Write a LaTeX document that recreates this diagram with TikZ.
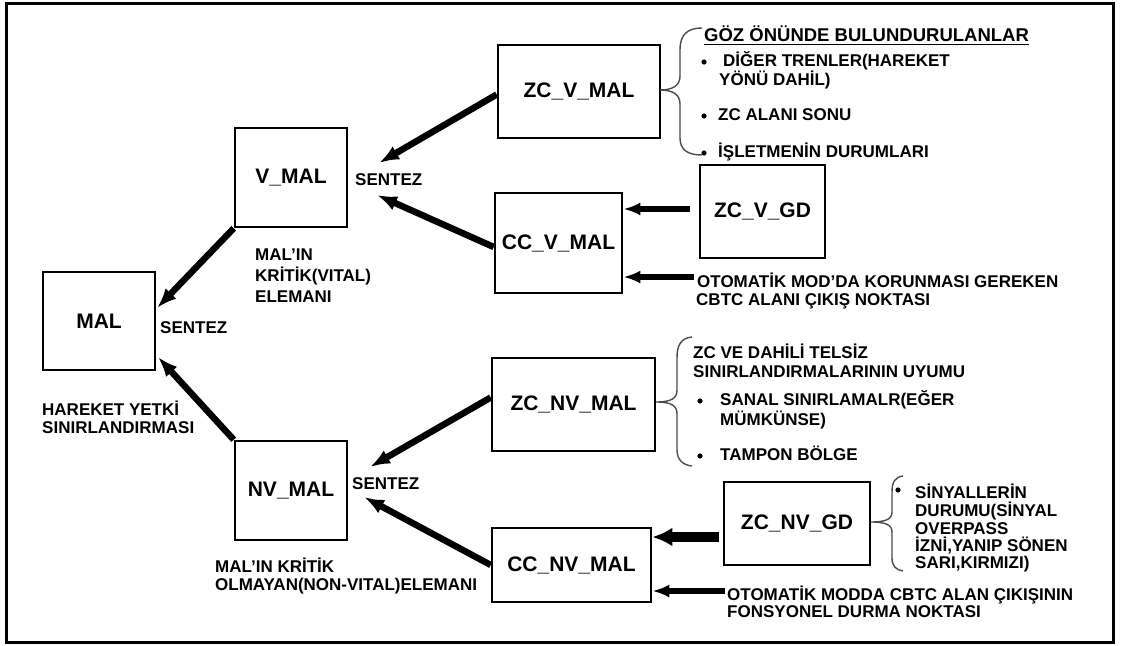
\documentclass[tikz,border=0pt]{standalone}
\usepackage{fontspec}
\setmainfont{Liberation Sans}
\usetikzlibrary{arrows.meta}
\begin{document}
\begin{tikzpicture}[x=1pt,y=-1pt,
  box/.style={draw, line width=2.6pt, inner sep=0pt, font=\fontsize{21}{24}\selectfont\bfseries},
  txt/.style={anchor=base west, inner sep=0pt, font=\fontsize{17}{19}\selectfont\bfseries},
  hdrtxt/.style={anchor=base west, inner sep=0pt, font=\fontsize{18.5}{20}\selectfont\bfseries},
  arr/.style={line width=6.5pt, -{Latex[length=20pt,width=15pt]}},
  harr/.style={line width=6pt, -{Latex[length=17pt,width=13pt]}},
  wharr/.style={line width=10pt, -{Latex[length=20pt,width=19pt]}},
  brc/.style={line width=1.4pt, black!70},
  dotb/.style={fill=black}
]
\useasboundingbox (0,0) rectangle (1126,645);
\draw[line width=3pt] (6,3) rectangle (1113,642);

% boxes
\node[box, minimum width=112pt, minimum height=98pt] (mal) at (99,321) {MAL};
\node[box, minimum width=112pt, minimum height=99pt] (vmal) at (291,177.5) {V\_MAL};
\node[box, minimum width=112pt, minimum height=99pt] (nvmal) at (291,490.5) {NV\_MAL};
\node[box, minimum width=162pt, minimum height=93pt] (zcvmal) at (579,91.5) {ZC\_V\_MAL};
\node[box, minimum width=127pt, minimum height=100pt] (ccvmal) at (558.5,243) {CC\_V\_MAL};
\node[box, minimum width=125pt, minimum height=93pt] (zcvgd) at (762.5,211.5) {ZC\_V\_GD};
\node[box, minimum width=163pt, minimum height=93pt] (zcnvmal) at (573.5,404.5) {ZC\_NV\_MAL};
\node[box, minimum width=159pt, minimum height=74pt] (ccnvmal) at (571.5,565) {CC\_NV\_MAL};
\node[box, minimum width=146pt, minimum height=83pt] (zcnvgd) at (797,523.5) {ZC\_NV\_GD};

% left labels
\node[txt] (sz1) at (160,333) {SENTEZ};
\node[txt] (sz2) at (355,185) {SENTEZ};
\node[txt] (sz3) at (352,489) {SENTEZ};
\node[txt] (hy1) at (42,415) {HAREKET YETKİ};
\node[txt] (hy2) at (42,433) {SINIRLANDIRMASI};
\node[txt] (mk1) at (255,260) {MAL'IN};
\node[txt] (mk2) at (255,281) {KRİTİK(VITAL)};
\node[txt] (mk3) at (255,302) {ELEMANI};
\node[txt] (nk1) at (215,572) {MAL'IN KRİTİK};
\node[txt] (nk2) at (215,590) {OLMAYAN(NON-VITAL)ELEMANI};

% top right list
\node[hdrtxt] (hdr) at (704,41) {GÖZ ÖNÜNDE BULUNDURULANLAR};
\draw[line width=1.6pt] ([yshift=-3.5pt]hdr.base west) -- ([yshift=-3.5pt]hdr.base east);
\node[txt] (g1) at (723,66) {DİĞER TRENLER(HAREKET};
\node[txt] (g2) at (719,85) {YÖNÜ DAHİL)};
\node[txt] (g3) at (718,120) {ZC ALANI SONU};
\node[txt] (g4) at (718,157) {İŞLETMENİN DURUMLARI};
\fill[dotb] (704,62) circle (2.6pt);
\fill[dotb] (704,116) circle (2.6pt);
\fill[dotb] (704,153) circle (2.6pt);

\node[txt] (oto1) at (697,287) {OTOMATİK MOD'DA KORUNMASI GEREKEN};
\node[txt] (oto2) at (696,305) {CBTC ALANI ÇIKIŞ NOKTASI};

% middle right list
\node[txt] (n1) at (693,358) {ZC VE DAHİLİ TELSİZ};
\node[txt] (n2) at (693,377) {SINIRLANDIRMALARININ UYUMU};
\node[txt] (n3) at (720,405) {SANAL SINIRLAMALR(EĞER};
\node[txt] (n4) at (720,425) {MÜMKÜNSE)};
\node[txt] (n5) at (720,460) {TAMPON BÖLGE};
\fill[dotb] (700,401) circle (2.6pt);
\fill[dotb] (700,456) circle (2.6pt);

% bottom right list
\node[txt] (s1) at (915,498) {SİNYALLERİN};
\node[txt] (s2) at (915,516) {DURUMU(SİNYAL};
\node[txt] (s3) at (915,534) {OVERPASS};
\node[txt] (s4) at (915,551) {İZNİ,YANIP SÖNEN};
\node[txt] (s5) at (915,568) {SARI,KIRMIZI)};
\fill[dotb] (898,490) circle (2.6pt);

\node[txt] (oto3) at (727,600) {OTOMATİK MODDA CBTC ALAN ÇIKIŞININ};
\node[txt] (oto4) at (727,617) {FONSYONEL DURMA NOKTASI};

% braces
\draw[brc] (702,28) .. controls (688,28) and (680,34) .. (680,50) -- (680,76)
  .. controls (680,86) and (672,90) .. (660,90)
  .. controls (672,90) and (680,94) .. (680,104) -- (680,138)
  .. controls (680,150) and (688,155) .. (702,155);
\draw[brc] (692,337) .. controls (681,338) and (677,345) .. (677,358) -- (677,390)
  .. controls (677,398) and (672,402) .. (656,402)
  .. controls (672,402) and (677,406) .. (677,414) -- (677,450)
  .. controls (677,460) and (683,465) .. (692,466);
\draw[brc] (903,476) .. controls (895,477) and (892,482) .. (892,492) -- (892,512)
  .. controls (892,519) and (886,522) .. (871,522)
  .. controls (886,522) and (892,525) .. (892,532) -- (892,558)
  .. controls (892,566) and (896,570) .. (903,571);

% arrow end points
\coordinate (tA) at (379,163);
\coordinate (tB) at (377,195);
\coordinate (tC) at (157,308);
\coordinate (tD) at (158,357);
\coordinate (tE) at (370,467);
\coordinate (tF) at (364,497);
\coordinate (h1s) at (690,209);
\coordinate (h2s) at (694,277);
\coordinate (h3s) at (719,537);
\coordinate (h4s) at (725,591);

% arrows
\draw[arr] ([yshift=-3pt]zcvmal.west) -- (tA);
\draw[arr] ([yshift=-4pt]ccvmal.west) -- (tB);
\draw[arr] (vmal.south west) -- (tC);
\draw[arr] (nvmal.north west) -- (tD);
\draw[arr] ([yshift=7pt]zcnvmal.west) -- (tE);
\draw[arr] (ccnvmal.west) -- (tF);
\draw[harr] (h1s) -- (ccvmal.east |- h1s);
\draw[harr] (h2s) -- (ccvmal.east |- h2s);
\draw[wharr] (h3s) -- (ccnvmal.east |- h3s);
\draw[harr] (h4s) -- (ccnvmal.east |- h4s);
\end{tikzpicture}
\end{document}
